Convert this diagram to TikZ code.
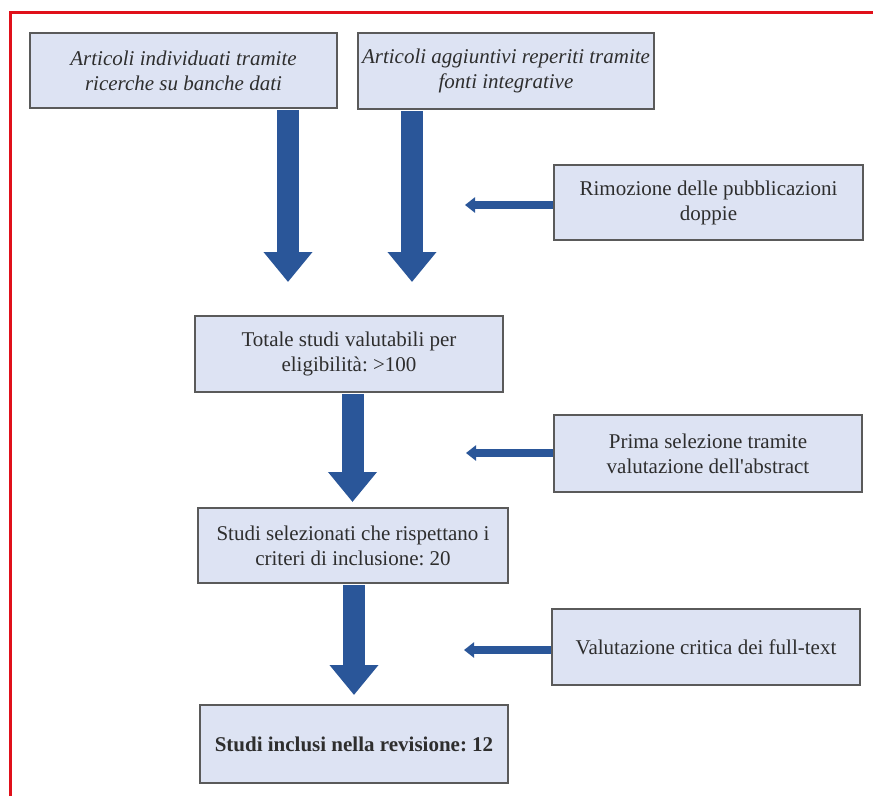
\documentclass[tikz,border=0pt]{standalone}
\usepackage{fontspec}
\setmainfont{Liberation Serif}[Ligatures=TeXOff]
\usetikzlibrary{arrows.meta}
\definecolor{boxfill}{HTML}{DDE3F3}
\definecolor{boxline}{HTML}{5A5A5A}
\definecolor{arrblue}{HTML}{2A5699}
\definecolor{framered}{HTML}{E0101A}
\definecolor{txt}{HTML}{2E2E2E}
\frenchspacing
\begin{document}
\begin{tikzpicture}[x=1pt,y=-1pt,
  flowbox/.style={draw=boxline, line width=2pt, fill=boxfill, rectangle,
    align=center, text=txt, inner sep=0pt,
    font=\fontsize{21}{25}\selectfont},
  bigarrow/.style={draw=arrblue, line width=22pt,
    -{Triangle[width=47pt,length=30pt]}},
  sidearrow/.style={draw=arrblue, line width=8pt,
    -{Triangle[width=15pt,length=10pt]}}
]
\useasboundingbox (0,0) rectangle (873,796);
\fill[white] (0,0) rectangle (873,796);
\draw[framered, line width=3pt] (10,796) -- (10,12) -- (873,12);

\node[flowbox, minimum width=307pt, minimum height=75pt] (A) at (183.5,70.5)
  {\itshape Articoli individuati tramite\\\itshape ricerche su banche dati};
\node[flowbox, minimum width=296pt, minimum height=76pt] (B) at (506,71)
  {\itshape Articoli aggiuntivi reperiti tramite\\\itshape fonti integrative};
\node[flowbox, minimum width=309pt, minimum height=75pt] (C) at (708.5,202.5)
  {Rimozione delle pubblicazioni\\doppie};
\node[flowbox, minimum width=308pt, minimum height=76pt] (D) at (349,354)
  {Totale studi valutabili per\\eligibilità: >100};
\node[flowbox, minimum width=308pt, minimum height=77pt] (E) at (708,453.5)
  {Prima selezione tramite\\valutazione dell'abstract};
\node[flowbox, minimum width=310pt, minimum height=75pt] (F) at (353,545.5)
  {Studi selezionati che rispettano i\\criteri di inclusione: 20};
\node[flowbox, minimum width=308pt, minimum height=76pt] (G) at (706,647)
  {Valutazione critica dei full-text};
\node[flowbox, minimum width=308pt, minimum height=78pt] (H) at (354,744)
  {\bfseries Studi inclusi nella revisione: 12};

% free ends of the connectors
\coordinate (a1) at (288,282);
\coordinate (a2) at (412,282);
\coordinate (a3) at (352.5,502);
\coordinate (a4) at (354,695);
\coordinate (s1) at (465,205);
\coordinate (s2) at (466,453);
\coordinate (s3) at (464,650);

\draw[bigarrow] ([yshift=-1pt]A.south -| a1) -- (a1);
\draw[bigarrow] ([yshift=-1pt]B.south -| a2) -- (a2);
\draw[bigarrow] ([yshift=-1pt]D.south -| a3) -- (a3);
\draw[bigarrow] ([yshift=-1pt]F.south -| a4) -- (a4);

\draw[sidearrow] (C.west |- s1) -- (s1);
\draw[sidearrow] (E.west |- s2) -- (s2);
\draw[sidearrow] (G.west |- s3) -- (s3);
\end{tikzpicture}
\end{document}
